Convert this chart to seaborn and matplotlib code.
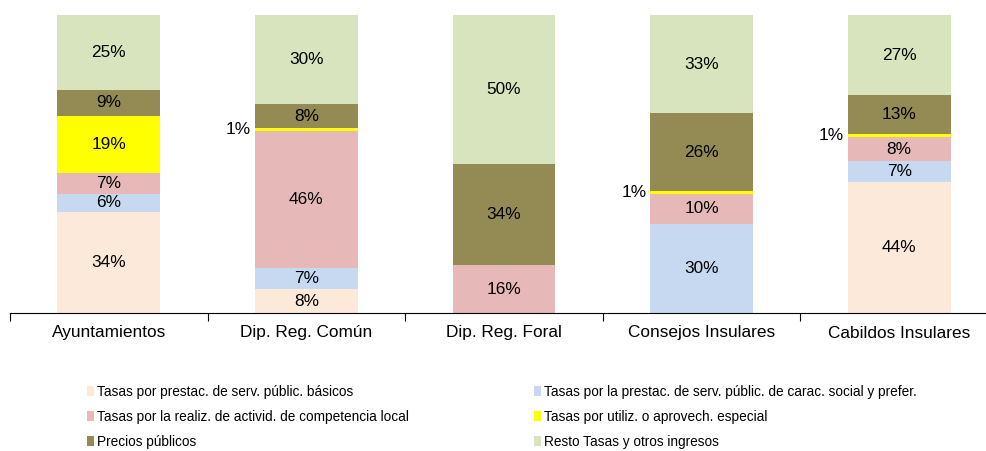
import numpy as np
import pandas as pd
import matplotlib
matplotlib.use('Agg')
import matplotlib.pyplot as plt
import seaborn as sns
from matplotlib.patches import Patch

# datos
categorias = ['Ayuntamientos', 'Dip. Reg. Común', 'Dip. Reg. Foral', 'Consejos Insulares', 'Cabildos Insulares']
series = ['Tasas por prestac. de serv. públic. básicos',
          'Tasas por la prestac. de serv. públic. de carac. social y prefer.',
          'Tasas por la realiz. de activid. de competencia local',
          'Tasas por utiliz. o aprovech. especial',
          'Precios públicos',
          'Resto Tasas y otros ingresos']
basicos = [34, 8, 0, 0, 44]
social = [6, 7, 0, 30, 7]
realiz = [7, 46, 16, 10, 8]
utiliz = [19, 1, 0, 1, 1]
precios = [9, 8, 34, 26, 13]
resto = [25, 30, 50, 33, 27]
colores = ['#FDE9D9', '#C6D9F1', '#E6B9B8', '#FFFF00', '#948A54', '#D7E4BD']

valores = [basicos, social, realiz, utiliz, precios, resto]
filas = []
for s, vals in zip(series, valores):
    for c, v in zip(categorias, vals):
        filas.append({'cat': c, 'serie': s, 'val': v})
df = pd.DataFrame(filas)
df['cat'] = pd.Categorical(df['cat'], categories=categorias, ordered=True)

sns.set_style('white')
plt.rcParams['font.family'] = ['Liberation Sans', 'DejaVu Sans']
plt.rcParams['text.color'] = 'black'
plt.rcParams['xtick.color'] = 'black'

fig = plt.figure(figsize=(9.87, 4.51), dpi=100)
ax = fig.add_axes([10 / 987, 138 / 451, 988 / 987, 298 / 451])

# histplot apila el primer tono arriba, por eso se invierte el orden
sns.histplot(data=df, x='cat', hue='serie', weights='val', multiple='stack',
             discrete=True, shrink=0.52, hue_order=series[::-1], palette=colores[::-1],
             alpha=1, linewidth=0, legend=False, ax=ax)

ax.set_xlim(-0.5, 4.5)
ax.set_ylim(0, 100)
ax.set_xlabel('')
ax.set_ylabel('')
ax.set_yticks([])
for sp in ['top', 'right', 'left']:
    ax.spines[sp].set_visible(False)
ax.spines['bottom'].set_color('black')
ax.spines['bottom'].set_linewidth(0.8)

ax.set_xticks(range(len(categorias)))
ax.set_xticklabels(categorias, fontsize=12.4, color='black')
ax.tick_params(axis='x', which='major', length=0, pad=9)
ax.set_xticks(np.arange(-0.5, 5, 1), minor=True)
ax.tick_params(axis='x', which='minor', length=6, width=0.8, direction='out', color='black', bottom=True)

# etiquetas de porcentaje
for i in range(len(categorias)):
    base = 0
    for vals in valores:
        v = vals[i]
        if v >= 2:
            ax.text(i, base + v / 2, f'{v}%', ha='center', va='center', fontsize=12.4, color='black')
        elif v > 0:
            ax.text(i - 0.28, base + v / 2, f'{v}%', ha='right', va='center', fontsize=12.4, color='black')
        base += v

# leyenda en dos columnas
col1 = [0, 2, 4]
col2 = [1, 3, 5]
for idx, xpos in [(col1, 87 / 987), (col2, 534 / 987)]:
    handles = [Patch(facecolor=colores[k], edgecolor='none', label=series[k]) for k in idx]
    fig.legend(handles=handles, loc='upper left', bbox_to_anchor=(xpos, 1 - 385 / 451),
               frameon=False, handlelength=0.5, handleheight=0.8,
               handletextpad=0.25, labelspacing=0.8, borderpad=0, borderaxespad=0,
               prop={'family': ['Liberation Sans Narrow', 'Liberation Sans', 'DejaVu Sans'], 'size': 9.8})

fig.savefig('out.png', dpi=100)
